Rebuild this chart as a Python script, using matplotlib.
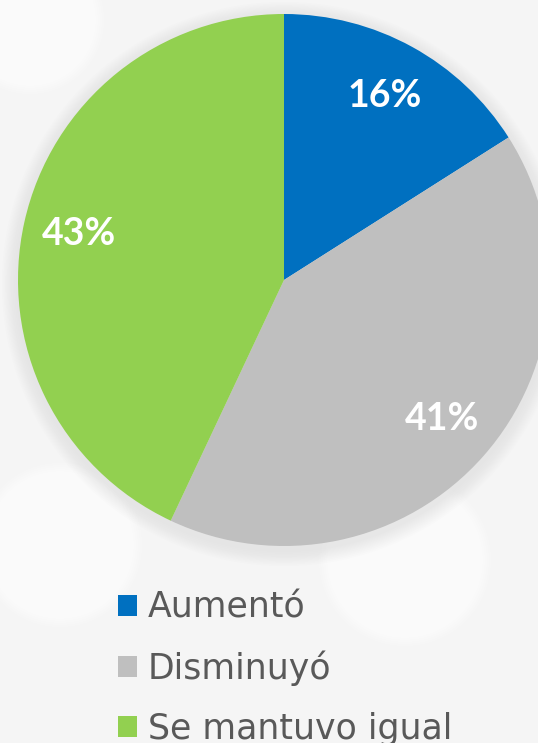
import matplotlib
matplotlib.use("Agg")
import matplotlib.pyplot as plt
from matplotlib.patches import Circle
import numpy as np

categories = ["Aumentó", "Disminuyó", "Se mantuvo igual"]
values = [16, 41, 43]
colors = ["#0070C0", "#BFBFBF", "#92D050"]

W, H = 538, 743
fig = plt.figure(figsize=(W / 100, H / 100), dpi=100)
fig.patch.set_facecolor("#F5F5F5")
ax = fig.add_axes([0, 0, 1, 1])

cx, cy, r = 284, 280, 266

# soft background decorations
for (x, y, rr) in [(60, 545, 68), (405, 560, 72), (30, 20, 60)]:
    for k in range(8):
        ax.add_patch(Circle((x, y), rr + 14 - 2 * k, facecolor="white", alpha=0.18,
                            edgecolor="none", zorder=0))
# soft shadow around pie
for k in range(10):
    ax.add_patch(Circle((cx, cy + 4), r + 16 - 1.6 * k, facecolor="#D8D8D8",
                        alpha=0.06, edgecolor="none", zorder=1))

# y axis is inverted below, so start at 270 deg and go "counterclock" = clockwise on screen
wedges, texts, autotexts = ax.pie(
    values, colors=colors, startangle=270, counterclock=True,
    center=(cx, cy), radius=r, frame=True,
    autopct=lambda p: f"{p:.0f}%", pctdistance=0.79,
    wedgeprops=dict(linewidth=0, zorder=2),
    textprops=dict(color="white", fontsize=27, fontweight="bold", family="Lato"),
)
for t in autotexts:
    t.set_zorder(3)
ax.set_xlim(0, W)
ax.set_ylim(H, 0)
ax.set_aspect("equal")
ax.axis("off")

leg = fig.legend(
    wedges, categories, loc="upper left", bbox_to_anchor=(118 / W, 1 - 591 / H),
    frameon=False, handlelength=0.55, handleheight=0.55,
    handletextpad=0.3, labelspacing=0.74, borderaxespad=0, borderpad=0,
    prop=dict(family="DejaVu Sans", size=25, weight="normal"),
)
for t in leg.get_texts():
    t.set_color("#595959")

fig.savefig("out.png", dpi=100, facecolor=fig.get_facecolor())
